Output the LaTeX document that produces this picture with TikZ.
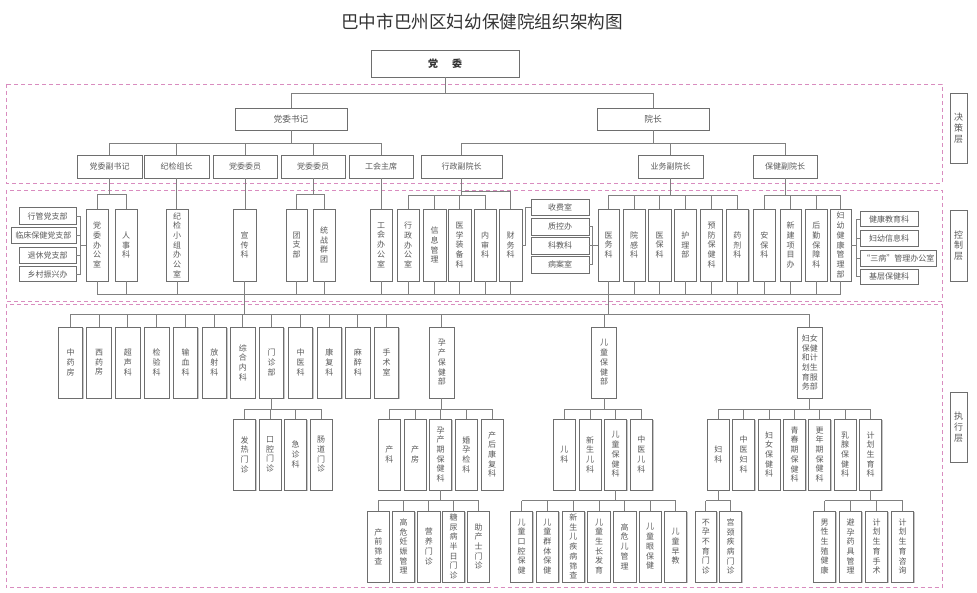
\documentclass[tikz,border=0pt]{standalone}
\usepackage{fontspec}
\setmainfont{Noto Sans CJK SC}
\usetikzlibrary{shadows}
\definecolor{pk}{HTML}{D98CBF}
\definecolor{lnc}{HTML}{808080}
\definecolor{bdc}{HTML}{6E6E6E}
\definecolor{txc}{HTML}{5A5A5A}
\newcommand\bx[6][]{\node[obox,#1,minimum width={#4-#2},minimum height={#5-#3}] (#6) at ({(#2+#4)/2},{(#3+#5)/2})}
\def\vt#1{\vtA#1\vtEnd}
\def\vtA#1#2\vtEnd{#1\ifx\relax#2\relax\else\\\vtA#2\vtEnd\fi}
\newcommand\brk[5]{%
 \draw[ln] (#1.south) -- (#1.south |- 0,#2);
 \draw[ln] (#3.north |- 0,#2) -- (#4.north |- 0,#2);
 \foreach \c in {#5}{\draw[ln] (\c.north) -- (\c.north |- 0,#2);}}
\newcommand\ubrk[4]{%
 \draw[ln] (#2.south |- 0,#1) -- (#3.south |- 0,#1);
 \foreach \c in {#4}{\draw[ln] (\c.south) -- (\c.south |- 0,#1);}}
\begin{document}
\begin{tikzpicture}[x=1pt,y=-1pt,
 obox/.style={draw=bdc,line width=0.7pt,fill=white,inner sep=0pt,text=txc,
   font=\fontsize{8}{9.7}\selectfont,
   drop shadow={shadow xshift=0.8pt,shadow yshift=-0.8pt,fill=black!22,opacity=1}},
 vbox/.style={align=center},
 bigtx/.style={font=\fontsize{8.7}{10}\selectfont},
 lbox/.style={align=center,font=\fontsize{9}{10.8}\selectfont},
 ln/.style={draw=lnc,line width=0.8pt},
 layer/.style={draw=pk,line width=0.9pt,dash pattern=on 4pt off 3pt}]
\useasboundingbox (0,0) rectangle (977,593);
% layers
\draw[layer] (6,84) rectangle (942,183);
\draw[layer] (6,190) rectangle (942,301);
\draw[layer] (6,304.5) rectangle (942,587);
\bx[lbox]{950}{93}{967}{163}{L1}{\vt{决策层}};
\bx[lbox]{950}{210}{967}{281}{L2}{\vt{控制层}};
\bx[lbox]{950}{392}{967}{462}{L3}{\vt{执行层}};
% title
\node[font=\fontsize{17.6}{20}\selectfont,text=black!80] (title) at (482,22) {巴中市巴州区妇幼保健院组织架构图};
% top
\bx[font=\bfseries\fontsize{10}{12}\selectfont,text=black!80]{371}{50}{519}{77}{dw}{党\hspace{14pt}委};
\bx[bigtx]{235}{108}{347}{130}{sj}{党委书记};
\bx[bigtx]{597}{108}{709}{130}{yz}{院长};
\bx{77}{155}{142}{178}{fsj}{党委副书记};
\bx{144}{155}{209}{178}{jj}{纪检组长};
\bx{213}{155}{277}{178}{wy1}{党委委员};
\bx{281}{155}{345}{178}{wy2}{党委委员};
\bx{349}{155}{413}{178}{gh}{工会主席};
\bx{421}{155}{502}{178}{xz}{行政副院长};
\bx{638}{155}{703}{178}{yw}{业务副院长};
\bx{753}{155}{817}{178}{bj}{保健副院长};
% control
\bx[vbox]{86}{209}{108}{281}{dwbgs}{\vt{党委办公室}};
\bx[vbox]{115}{209}{137}{281}{rsk}{\vt{人事科}};
\bx[vbox]{166}{209}{188}{281}{jjbgs}{\vt{纪检小组办公室}};
\bx[vbox]{233}{209}{256}{281}{xck}{\vt{宣传科}};
\bx[vbox]{286}{209}{307}{281}{tzb}{\vt{团支部}};
\bx[vbox]{313}{209}{335}{281}{tzqt}{\vt{统战群团}};
\bx[vbox]{370}{209}{392}{281}{ghbgs}{\vt{工会办公室}};
\bx[vbox]{397}{209}{419}{281}{xzbgs}{\vt{行政办公室}};
\bx[vbox]{423}{209}{446}{281}{xxgl}{\vt{信息管理}};
\bx[vbox]{448}{209}{471}{281}{yxzb}{\vt{医学装备科}};
\bx[vbox]{474}{209}{496}{281}{nsk}{\vt{内审科}};
\bx[vbox]{499}{209}{522}{281}{cwk}{\vt{财务科}};
\bx[vbox]{598}{209}{619}{281}{ywk}{\vt{医务科}};
\bx[vbox]{623}{209}{645}{281}{ygk}{\vt{院感科}};
\bx[vbox]{648}{209}{671}{281}{ybk}{\vt{医保科}};
\bx[vbox]{674.5}{209}{696}{281}{hlb}{\vt{护理部}};
\bx[vbox]{700.7}{209}{722.5}{281}{yfbj}{\vt{预防保健科}};
\bx[vbox]{726}{209}{748.7}{281}{yjk}{\vt{药剂科}};
\bx[vbox]{753}{209}{775.6}{281}{abk}{\vt{安保科}};
\bx[vbox]{780}{209}{801}{281}{xjxm}{\vt{新建项目办}};
\bx[vbox]{805.6}{209}{827}{281}{hqbz}{\vt{后勤保障科}};
\bx[vbox]{830}{209}{851}{281}{fyjk}{\vt{妇幼健康管理部}};
% small boxes
\bx{19}{207.7}{76}{224.3}{xgdzb}{行管党支部};
\bx{11}{227.7}{76}{243.7}{lcbj}{临床保健党支部};
\bx{19}{247}{76}{263}{txdzb}{退休党支部};
\bx{19}{266.3}{76}{281.7}{xczx}{乡村振兴办};
\bx{531}{199}{589}{215.7}{sfs}{收费室};
\bx{531}{218}{589}{235}{zkb}{质控办};
\bx{531}{237.7}{589}{254}{kjk}{科教科};
\bx{531}{256.7}{589}{273}{bas}{病案室};
\bx{860}{211.7}{918}{226.7}{jkjy}{健康教育科};
\bx{860}{230.7}{918}{246}{fyxx}{妇幼信息科};
\bx{860}{250.5}{936.6}{266.5}{sbgl}{“三病”管理办公室};
\bx{860}{269.3}{918}{284.3}{jcbj}{基层保健科};
% execution level 1
\bx[vbox]{58.3}{327}{82.7}{398}{zyf}{\vt{中药房}};
\bx[vbox]{86.7}{327}{111.3}{398}{xyf}{\vt{西药房}};
\bx[vbox]{115.7}{327}{140}{398}{csk}{\vt{超声科}};
\bx[vbox]{144.3}{327}{169}{398}{jyk}{\vt{检验科}};
\bx[vbox]{173.3}{327}{197.7}{398}{sxk}{\vt{输血科}};
\bx[vbox]{202}{327}{226.7}{398}{fsk}{\vt{放射科}};
\bx[vbox]{230.7}{327}{255}{398}{zhnk}{\vt{综合内科}};
\bx[vbox]{259.3}{327}{283.7}{398}{mzb}{\vt{门诊部}};
\bx[vbox]{288.3}{327}{312.7}{398}{zyk}{\vt{中医科}};
\bx[vbox]{317}{327}{341.7}{398}{kfk}{\vt{康复科}};
\bx[vbox]{345.7}{327}{370}{398}{mzk}{\vt{麻醉科}};
\bx[vbox]{374.3}{327}{398.7}{398}{sss}{\vt{手术室}};
\bx[vbox]{429.3}{327}{454.3}{398}{ycbj}{\vt{孕产保健部}};
\bx[vbox]{591.7}{327}{616.3}{398}{etbj}{\vt{儿童保健部}};
\bx[vbox]{797.3}{327}{822.3}{398}{fnbj}{妇女\\保健\\和计\\划生\\育服\\务部};
% execution level 2
\bx[vbox]{233.3}{419}{255.7}{490}{frmz}{\vt{发热门诊}};
\bx[vbox]{259}{419}{281.3}{490}{kqmz}{\vt{口腔门诊}};
\bx[vbox]{284.3}{419}{306.7}{490}{jzk}{\vt{急诊科}};
\bx[vbox]{310}{419}{332.3}{490}{cdmz}{\vt{肠道门诊}};
\bx[vbox]{378.3}{419}{400.3}{490}{ck}{\vt{产科}};
\bx[vbox]{404}{419}{426}{490}{cf}{\vt{产房}};
\bx[vbox]{429.7}{419}{451.7}{490}{ycqbj}{\vt{孕产期保健科}};
\bx[vbox]{455.3}{419}{477.3}{490}{hyjk}{\vt{婚孕检科}};
\bx[vbox]{481}{419}{503.3}{490}{chkf}{\vt{产后康复科}};
\bx[vbox]{553.3}{419}{575.3}{490}{ek}{\vt{儿科}};
\bx[vbox]{579}{419}{601}{490}{xsek}{\vt{新生儿科}};
\bx[vbox]{604.7}{419}{626.7}{490}{etbjk}{\vt{儿童保健科}};
\bx[vbox]{630}{419}{652.7}{490}{zyek}{\vt{中医儿科}};
\bx[vbox]{707.3}{419}{729.3}{490}{fk}{\vt{妇科}};
\bx[vbox]{732.7}{419}{754.7}{490}{zyfk}{\vt{中医妇科}};
\bx[vbox]{758}{419}{780}{490}{fnbjk}{\vt{妇女保健科}};
\bx[vbox]{783.3}{419}{805.7}{490}{qcq}{\vt{青春期保健科}};
\bx[vbox]{808.7}{419}{830.7}{490}{gnq}{\vt{更年期保健科}};
\bx[vbox]{834}{419}{856}{490}{rx}{\vt{乳腺保健科}};
\bx[vbox]{859.3}{419}{881.7}{490}{jhsyk}{\vt{计划生育科}};
% execution level 3
\bx[vbox]{367.3}{511}{389.3}{582}{cqsc}{\vt{产前筛查}};
\bx[vbox]{392.7}{511}{414.7}{582}{gwrs}{\vt{高危妊娠管理}};
\bx[vbox]{417.7}{511}{440}{582}{yymz}{\vt{营养门诊}};
\bx[vbox]{442.7}{511}{464.7}{582}{tnb}{\vt{糖尿病半日门诊}};
\bx[vbox]{467.7}{511}{489.3}{582}{zcs}{\vt{助产士门诊}};
\bx[vbox]{510.3}{511}{532.7}{582}{etkq}{\vt{儿童口腔保健}};
\bx[vbox]{536}{511}{558.7}{582}{etqt}{\vt{儿童群体保健}};
\bx[vbox]{562}{511}{584.7}{582}{xsejb}{\vt{新生儿疾病筛查}};
\bx[vbox]{587.7}{511}{610.3}{582}{etsz}{\vt{儿童生长发育}};
\bx[vbox]{613.3}{511}{636}{582}{gwe}{\vt{高危儿管理}};
\bx[vbox]{639}{511}{661.3}{582}{etyb}{\vt{儿童眼保健}};
\bx[vbox]{664.3}{511}{686.7}{582}{etzj}{\vt{儿童早教}};
\bx[vbox]{695}{511}{716.7}{582}{byby}{\vt{不孕不育门诊}};
\bx[vbox]{719.3}{511}{741.7}{582}{gjjb}{\vt{宫颈疾病门诊}};
\bx[vbox]{813.3}{511}{835.7}{582}{nxsz}{\vt{男性生殖健康}};
\bx[vbox]{839.3}{511}{861.7}{582}{byyj}{\vt{避孕药具管理}};
\bx[vbox]{865.3}{511}{887.7}{582}{jhss}{\vt{计划生育手术}};
\bx[vbox]{891.3}{511}{913.7}{582}{jhzx}{\vt{计划生育咨询}};
% ---- connectors: decision layer
\brk{dw}{93}{sj}{yz}{sj,yz}
\brk{sj}{143}{fsj}{gh}{fsj,jj,wy1,wy2,gh}
\brk{yz}{143}{xz}{bj}{xz,yw,bj}
% ---- decision -> control
\brk{fsj}{194}{dwbgs}{rsk}{dwbgs,rsk}
\draw[ln] (jj.south) -- (jj.south |- jjbgs.north);
\draw[ln] (wy1.south) -- (wy1.south |- xck.north);
\brk{wy2}{194}{tzb}{tzqt}{tzb,tzqt}
\draw[ln] (gh.south) -- (gh.south |- ghbgs.north);
\brk{xz}{195}{xzbgs}{nsk}{xzbgs,xxgl,yxzb,nsk}
\draw[ln] (xz.south |- 0,191) -| (cwk.north);
\brk{yw}{195}{ywk}{yjk}{ywk,ygk,ybk,hlb,yfbj,yjk}
\brk{bj}{195}{abk}{fyjk}{abk,xjxm,hqbz,fyjk}
% side brackets
\coordinate (lb) at (80,245);
\draw[ln] (xgdzb.east) -- (xgdzb.east -| lb) -- (xczx.east -| lb) -- (xczx.east);
\draw[ln] (lcbj.east) -- (lcbj.east -| lb);
\draw[ln] (txdzb.east) -- (txdzb.east -| lb);
\draw[ln] (lb) -- (dwbgs.west);
\coordinate (cb) at (525.7,245);
\draw[ln] (cwk.east) -- (cb) |- (sfs.west);
\coordinate (mb) at (592.7,245);
\draw[ln] (zkb.east) -- (zkb.east -| mb) -- (bas.east -| mb) -- (bas.east);
\draw[ln] (kjk.east) -- (ywk.west |- kjk.east);
\coordinate (rb) at (856,245);
\draw[ln] (fyjk.east) -- (rb);
\draw[ln] (jkjy.west) -- (jkjy.west -| rb) -- (jcbj.west -| rb) -- (jcbj.west);
\draw[ln] (fyxx.west) -- (fyxx.west -| rb);
\draw[ln] (sbgl.west) -- (sbgl.west -| rb);
% control bottom line
\ubrk{294}{dwbgs}{fyjk}{dwbgs,rsk,jjbgs,xck,tzb,tzqt,ghbgs,xzbgs,xxgl,yxzb,nsk,cwk,ywk,ygk,ybk,hlb,yfbj,yjk,abk,xjxm,hqbz,fyjk}
\draw[ln] (xck.south |- 0,294) -- (xck.south |- 0,314);
\draw[ln] (ywk.south |- 0,294) -- (ywk.south |- 0,314);
% execution
\draw[ln] (zyf.north |- 0,314) -- (fnbj.north |- 0,314);
\foreach \c in {zyf,xyf,csk,jyk,sxk,fsk,zhnk,mzb,zyk,kfk,mzk,sss,ycbj,etbj,fnbj}{\draw[ln] (\c.north) -- (\c.north |- 0,314);}
\brk{mzb}{409}{frmz}{cdmz}{frmz,kqmz,jzk,cdmz}
\brk{ycbj}{409}{ck}{chkf}{ck,cf,ycqbj,hyjk,chkf}
\brk{etbj}{409}{ek}{zyek}{ek,xsek,etbjk,zyek}
\brk{fnbj}{409}{fk}{jhsyk}{fk,zyfk,fnbjk,qcq,gnq,rx,jhsyk}
\brk{ycqbj}{500.7}{cqsc}{zcs}{cqsc,gwrs,yymz,tnb,zcs}
\brk{etbjk}{500.7}{etkq}{etzj}{etkq,etqt,xsejb,etsz,gwe,etyb,etzj}
\brk{fk}{500.7}{byby}{gjjb}{byby,gjjb}
\brk{jhsyk}{500.7}{nxsz}{jhzx}{nxsz,byyj,jhss,jhzx}
\end{tikzpicture}
\end{document}
